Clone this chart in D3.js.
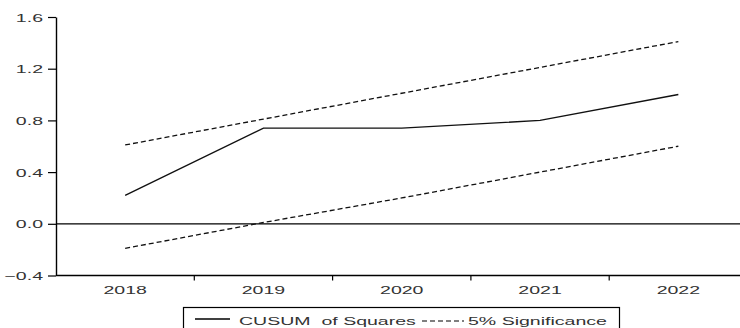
<!DOCTYPE html>
<html><head><meta charset="utf-8">
<script src="https://cdn.jsdelivr.net/npm/d3@7"></script>
<style>
html,body{margin:0;padding:0;background:#fff;}
svg{display:block;}
text{font-family:"Liberation Sans",Arial,sans-serif;fill:#333;white-space:pre;}
</style></head>
<body><svg id="c" width="740" height="328"></svg>
<script>
const years = ["2018","2019","2020","2021","2022"];
const cusum = [0.22, 0.74, 0.74, 0.80, 1.00];
const upper = [0.61, 0.81, 1.01, 1.21, 1.41];
const lower = [-0.19, 0.01, 0.20, 0.40, 0.60];
const yTicks = [-0.4, 0.0, 0.4, 0.8, 1.2, 1.6];
const legendLabels = ["CUSUM  of Squares", "5% Significance"];

(function(){
const svg = d3.select("#c");
const SX = 1.7, FS = "11.5px";
const mLeft = 56, mBottom = 275.5, mTop = 17;
const x = d3.scaleBand().domain(years).range([mLeft, mLeft + 5*138.3]);
const y = d3.scaleLinear().domain([-0.4, 1.6]).range([mBottom, mTop]);
const cx = d => x(d) + x.bandwidth()/2;

// Y axis
const ya = svg.append("g").attr("transform", `translate(${mLeft},0)`)
  .call(d3.axisLeft(y).tickValues(yTicks).tickSize(8).tickSizeOuter(0).tickFormat(d3.format(".1f")));
ya.select(".domain").attr("stroke", "#000").attr("stroke-width", 1.4);
ya.selectAll(".tick line").attr("stroke", "#000").attr("stroke-width", 1.2);
ya.selectAll(".tick text").attr("x", 0).attr("dy", "0.36em")
  .attr("transform", `translate(-13,0) scale(${SX},1)`)
  .style("font-size", FS).attr("fill", "#333");

// bottom line
svg.append("line").attr("x1", mLeft).attr("x2", 740).attr("y1", mBottom).attr("y2", mBottom)
  .attr("stroke", "#000").attr("stroke-width", 1.4);
// boundary ticks
svg.selectAll(".bt").data(years.slice(1)).enter().append("line")
  .attr("x1", d => x(d)).attr("x2", d => x(d)).attr("y1", mBottom).attr("y2", mBottom + 5)
  .attr("stroke", "#000").attr("stroke-width", 1.2);
// x labels
svg.selectAll(".xl").data(years).enter().append("text")
  .attr("text-anchor", "middle")
  .attr("transform", d => `translate(${cx(d)},${mBottom + 18}) scale(${SX},1)`)
  .style("font-size", FS).text(d => d);

// zero line
svg.append("line").attr("x1", mLeft).attr("x2", 740).attr("y1", y(0)).attr("y2", y(0))
  .attr("stroke", "#000").attr("stroke-width", 1.3);

const line = d3.line().x((d, i) => cx(years[i])).y(d => y(d));
svg.append("path").datum(upper).attr("d", line).attr("fill", "none")
  .attr("stroke", "#111").attr("stroke-width", 1.3).attr("stroke-dasharray", "5,3");
svg.append("path").datum(lower).attr("d", line).attr("fill", "none")
  .attr("stroke", "#111").attr("stroke-width", 1.3).attr("stroke-dasharray", "5,3");
svg.append("path").datum(cusum).attr("d", line).attr("fill", "none")
  .attr("stroke", "#111").attr("stroke-width", 1.4);

// legend
const lg = svg.append("g");
lg.append("rect").attr("x", 183.5).attr("y", 307.5).attr("width", 436).attr("height", 26)
  .attr("fill", "#fff").attr("stroke", "#000").attr("stroke-width", 1.2);
lg.append("line").attr("x1", 195).attr("x2", 230).attr("y1", 319).attr("y2", 319)
  .attr("stroke", "#000").attr("stroke-width", 1.3);
lg.append("text").attr("transform", `translate(239,325) scale(${SX},1)`)
  .style("font-size", FS).attr("fill", "#222").text(legendLabels[0]);
lg.append("line").attr("x1", 422).attr("x2", 464).attr("y1", 321).attr("y2", 321)
  .attr("stroke", "#000").attr("stroke-width", 1.2).attr("stroke-dasharray", "5,3");
lg.append("text").attr("transform", `translate(468,325) scale(${SX},1)`)
  .style("font-size", FS).attr("fill", "#222").text(legendLabels[1]);
})();
</script></body></html>
